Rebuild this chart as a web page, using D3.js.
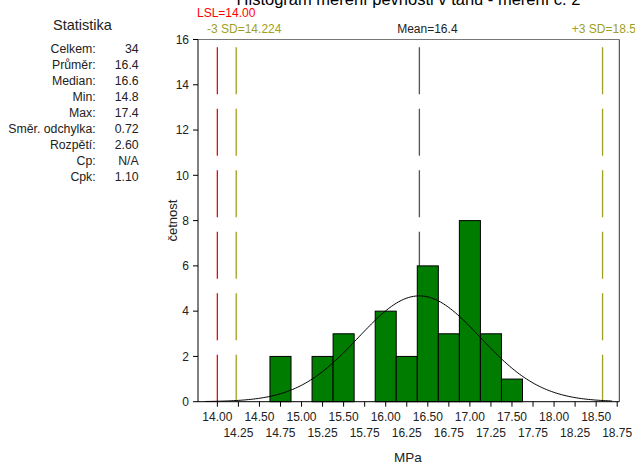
<!DOCTYPE html>
<html>
<head>
<meta charset="utf-8">
<script src="https://cdn.jsdelivr.net/npm/d3@7"></script>
<style>
  body { margin: 0; background: #fff; }
  svg { display: block; font-family: "Liberation Sans", Arial, sans-serif; }
</style>
</head>
<body>
<svg id="chart" width="635" height="464"></svg>
<script>
// Histogram: středy tříd (šířka 0.25) a četnosti
const binCenters = [14.75, 15.0, 15.25, 15.5, 15.75, 16.0, 16.25, 16.5, 16.75, 17.0, 17.25, 17.5];
const counts = [2, 0, 2, 3, 0, 4, 2, 6, 3, 8, 3, 1];
const binWidth = 0.25;

// Statistika vlevo
const statLabels = ["Celkem:", "Průměr:", "Median:", "Min:", "Max:", "Směr. odchylka:", "Rozpětí:", "Cp:", "Cpk:"];
const statValues = ["34", "16.4", "16.6", "14.8", "17.4", "0.72", "2.60", "N/A", "1.10"];

// Referenční čáry
const refLabels = ["LSL=14.00", "-3 SD=14.224", "Mean=16.4", "+3 SD=18.576"];
const refValues = [14.0, 14.224, 16.4, 18.576];

// Popisky os
const xTicks = d3.range(14.0, 18.76, 0.25);
const yTicks = [0, 2, 4, 6, 8, 10, 12, 14, 16];

const mean = 16.4;
const sd = (16.4 - 14.224) / 3;
const total = d3.sum(counts);

const svg = d3.select("#chart");

const x = d3.scaleLinear().domain([13.77, 18.775]).range([198, 619.3]);
const y = d3.scaleLinear().domain([0, 16]).range([401.7, 39.5]);

// Titulek (nahoře oříznutý)
svg.append("text")
  .attr("x", 408.5).attr("y", 4.5)
  .attr("text-anchor", "middle")
  .attr("font-size", 16.5)
  .text("Histogram měření pevnosti v tahu - měření č. 2");

// Rámeček
svg.append("line").attr("x1", 198).attr("x2", 619.3).attr("y1", 39.5).attr("y2", 39.5)
  .attr("stroke", "#777");
svg.append("line").attr("x1", 619.3).attr("x2", 619.3).attr("y1", 39.5).attr("y2", 401.7)
  .attr("stroke", "#333");

// Referenční čáry
const refColors = ["#ff0000", "#a0a020", "#555555", "#a0a020"];
svg.selectAll(".ref")
  .data(refValues)
  .enter()
  .append("line")
  .attr("x1", d => x(d)).attr("x2", d => x(d))
  .attr("y1", y(0)).attr("y2", y(16))
  .attr("stroke", (d, i) => refColors[i])
  .attr("stroke-width", 1.3)
  .attr("stroke-dasharray", "47,14.5");

svg.selectAll(".refLabel")
  .data(refLabels)
  .enter()
  .append("text")
  .attr("x", (d, i) => i === 0 ? 197 : x(refValues[i]) + 8)
  .attr("y", (d, i) => i === 0 ? 17 : 33)
  .attr("text-anchor", (d, i) => i === 0 ? "start" : "middle")
  .attr("font-size", 12)
  .attr("fill", (d, i) => i === 2 ? "#222" : refColors[i])
  .text(d => d);

// Sloupce
svg.selectAll(".bar")
  .data(binCenters)
  .enter()
  .filter((d, i) => counts[i] > 0)
  .append("rect")
  .attr("x", d => x(d - binWidth / 2))
  .attr("width", d => x(d + binWidth / 2) - x(d - binWidth / 2))
  .attr("y", d => y(counts[binCenters.indexOf(d)]))
  .attr("height", d => y(0) - y(counts[binCenters.indexOf(d)]))
  .attr("fill", "#007c00")
  .attr("stroke", "#000")
  .attr("stroke-width", 1);

// Normální křivka
const curveX = d3.range(13.85, 18.7, 0.02);
const line = d3.line()
  .x(d => x(d))
  .y(d => y(total * binWidth * Math.exp(-0.5 * ((d - mean) / sd) ** 2) / (sd * Math.sqrt(2 * Math.PI))))
  .curve(d3.curveBasis);
svg.append("path")
  .datum(curveX)
  .attr("d", line)
  .attr("fill", "none")
  .attr("stroke", "#000")
  .attr("stroke-width", 1);

// Osa Y
svg.append("line").attr("x1", 198).attr("x2", 198).attr("y1", 39.5).attr("y2", 402)
  .attr("stroke", "#000");
svg.selectAll(".ytick")
  .data(yTicks)
  .enter()
  .append("line")
  .attr("x1", 193).attr("x2", 198)
  .attr("y1", d => y(d)).attr("y2", d => y(d))
  .attr("stroke", "#000");
svg.selectAll(".ylab")
  .data(yTicks)
  .enter()
  .append("text")
  .attr("x", 189).attr("y", d => y(d) + 4.3)
  .attr("text-anchor", "end")
  .attr("font-size", 12)
  .attr("fill", "#222")
  .text(d => d);

// Osa X
svg.append("line").attr("x1", 198).attr("x2", 619.3).attr("y1", y(0)).attr("y2", y(0))
  .attr("stroke", "#000");
svg.selectAll(".xtick")
  .data(xTicks)
  .enter()
  .append("line")
  .attr("x1", d => x(d)).attr("x2", d => x(d))
  .attr("y1", y(0)).attr("y2", y(0) + 5)
  .attr("stroke", "#000");
svg.selectAll(".xlab")
  .data(xTicks)
  .enter()
  .append("text")
  .attr("x", d => x(d))
  .attr("y", (d, i) => i % 2 === 0 ? 421 : 436.5)
  .attr("text-anchor", "middle")
  .attr("font-size", 12)
  .attr("fill", "#222")
  .text(d => d.toFixed(2));

// Názvy os
svg.append("text")
  .attr("x", 408).attr("y", 462)
  .attr("text-anchor", "middle")
  .attr("font-size", 13.5)
  .attr("fill", "#222")
  .text("MPa");
svg.append("text")
  .attr("transform", "translate(176.5,220.6) rotate(-90)")
  .attr("text-anchor", "middle")
  .attr("font-size", 13)
  .attr("fill", "#222")
  .text("četnost");

// Panel statistiky
svg.append("text")
  .attr("x", 82.5).attr("y", 30)
  .attr("text-anchor", "middle")
  .attr("font-size", 14.5)
  .attr("fill", "#222")
  .text("Statistika");
svg.selectAll(".slab")
  .data(statLabels)
  .enter()
  .append("text")
  .attr("x", 95.7).attr("y", (d, i) => 53.3 + i * 15.95)
  .attr("text-anchor", "end")
  .attr("font-size", 12.3)
  .attr("fill", "#222")
  .text(d => d);
svg.selectAll(".sval")
  .data(statValues)
  .enter()
  .append("text")
  .attr("x", 138.7).attr("y", (d, i) => 53.3 + i * 15.95)
  .attr("text-anchor", "end")
  .attr("font-size", 12.3)
  .attr("fill", "#222")
  .text(d => d);
</script>
</body>
</html>
